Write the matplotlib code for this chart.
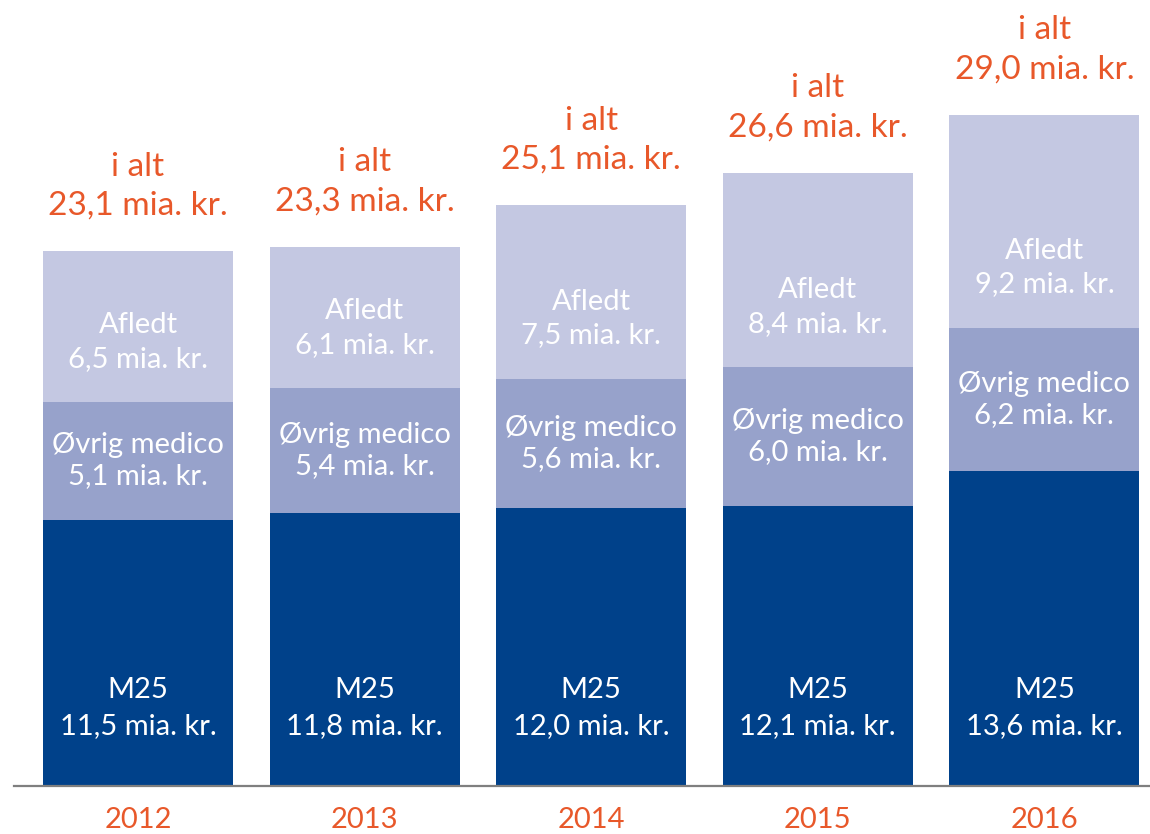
import matplotlib
matplotlib.use("Agg")
import matplotlib.pyplot as plt

years = ["2012", "2013", "2014", "2015", "2016"]
m25 = [11.5, 11.8, 12.0, 12.1, 13.6]
medico = [5.1, 5.4, 5.6, 6.0, 6.2]
afledt = [6.5, 6.1, 7.5, 8.4, 9.2]
totals = [23.1, 23.3, 25.1, 26.6, 29.0]

C_M25 = "#00418A"
C_MED = "#97A2CB"
C_AFL = "#C4C8E2"
C_ORG = "#E8582A"

FONT = ["Lato", "DejaVu Sans"]
plt.rcParams["font.family"] = FONT


def fmt(v):
    return f"{v:.1f}".replace(".", ",") + " mia. kr."


W, H = 1150, 834
fig = plt.figure(figsize=(W / 100, H / 100), dpi=100)
base_px = 786
ax = fig.add_axes([0, (H - base_px) / H, 1, base_px / H])
px_per_unit = 23.14
ax.set_ylim(0, base_px / px_per_unit)
spacing = 226.6
c0 = 138
ax.set_xlim(-c0 / spacing, (W - c0) / spacing)
ax.axis("off")

x = list(range(len(years)))
bw = 190 / spacing
bot2 = [a + b for a, b in zip(m25, medico)]
ax.bar(x, m25, width=bw, color=C_M25)
ax.bar(x, medico, width=bw, bottom=m25, color=C_MED)
ax.bar(x, afledt, width=bw, bottom=bot2, color=C_AFL)

ax.axhline(0, xmin=14 / W, xmax=1, color="#7f7f7f", lw=1.6, clip_on=False)

u = 1 / px_per_unit
fs_in = 21
for i in range(len(years)):
    ax.text(i, 78 * u, "M25\n" + fmt(m25[i]),
            ha="center", va="center", color="white", fontsize=fs_in, linespacing=1.47)
    mid = m25[i] + medico[i] / 2
    ax.text(i, mid, "Øvrig medico\n" + fmt(medico[i]),
            ha="center", va="center", color="white", fontsize=fs_in, linespacing=1.25)
    ax.text(i, bot2[i] + 60 * u, "Afledt\n" + fmt(afledt[i]),
            ha="center", va="center", color="white", fontsize=fs_in, linespacing=1.35)
    top = bot2[i] + afledt[i]
    ax.text(i, top + 65 * u, "i alt\n" + fmt(totals[i]),
            ha="center", va="center", color=C_ORG, fontsize=24, linespacing=1.38)
    ax.text(i, -34 * u, years[i], ha="center", va="center", color=C_ORG,
            fontsize=21, clip_on=False)

fig.savefig("out.png", dpi=100)
